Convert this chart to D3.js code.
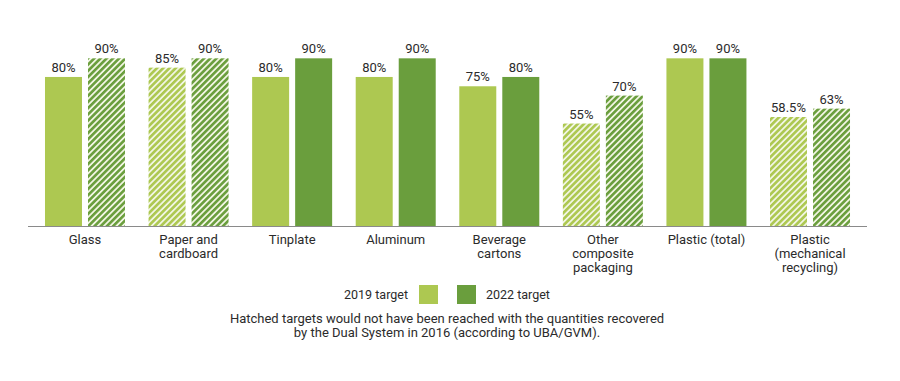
<!DOCTYPE html>
<html>
<head>
<meta charset="utf-8">
<script src="https://cdn.jsdelivr.net/npm/d3@7"></script>
<style>
  body { margin: 0; background: #fff; }
  text { font-family: Roboto, "Liberation Sans", sans-serif; fill: #2b2b2b; }
</style>
</head>
<body>
<script>
// data
let categories = ['Glass', 'Paper and\ncardboard', 'Tinplate', 'Aluminum', 'Beverage\ncartons',
  'Other\ncomposite\npackaging', 'Plastic (total)', 'Plastic\n(mechanical\nrecycling)'];
let target2019 = [80, 85, 80, 80, 75, 55, 90, 58.5];
let target2022 = [90, 90, 90, 90, 80, 70, 90, 63];
// which targets would not have been reached (drawn hatched)
let hatched2019 = [false, true, false, false, false, true, false, true];
let hatched2022 = [true, true, false, false, false, true, false, true];
let seriesNames = ['2019 target', '2022 target'];

let width = 900, height = 381;
let colors = { '2019 target': '#adc851', '2022 target': '#6a9e3d' };

let svg = d3.select('body').append('svg').attr('width', width).attr('height', height);

// hatch patterns
let defs = svg.append('defs');
seriesNames.forEach(function(s, i) {
  let p = defs.append('pattern').attr('id', 'hatch' + i)
    .attr('patternUnits', 'userSpaceOnUse')
    .attr('width', 4.4).attr('height', 4.4)
    .attr('patternTransform', 'rotate(45)');
  p.append('rect').attr('width', 4.4).attr('height', 4.4).attr('fill', '#f1f5e3');
  p.append('rect').attr('width', 2.6).attr('height', 4.4).attr('fill', colors[s]);
});

let rows = categories.map(function(c, i) {
  return {
    cat: c,
    vals: [
      { key: seriesNames[0], idx: 0, v: target2019[i], h: hatched2019[i] },
      { key: seriesNames[1], idx: 1, v: target2022[i], h: hatched2022[i] }
    ]
  };
});

let baseY = 226;
let x0 = d3.scaleBand().domain(categories).range([33.2, 861.8]).paddingInner(0.2276).paddingOuter(0.1138);
let x1 = d3.scaleBand().domain(seriesNames).range([0, x0.bandwidth()]).paddingInner(0.14);
let y = d3.scaleLinear().domain([0, 100]).range([baseY, baseY - 186.3]);

let groups = svg.selectAll('.grp').data(rows).enter().append('g').attr('class', 'grp')
  .attr('transform', function(d) { return 'translate(' + x0(d.cat) + ',0)'; });

groups.selectAll('rect').data(function(d) { return d.vals; }).enter().append('rect')
  .attr('x', function(d) { return x1(d.key); })
  .attr('width', x1.bandwidth())
  .attr('y', function(d) { return y(d.v); })
  .attr('height', function(d) { return y(0) - y(d.v); })
  .attr('fill', function(d) { return d.h ? 'url(#hatch' + d.idx + ')' : colors[d.key]; });

groups.selectAll('.val').data(function(d) { return d.vals; }).enter().append('text').attr('class', 'val')
  .attr('x', function(d) { return x1(d.key) + x1.bandwidth() / 2; })
  .attr('y', function(d) { return y(d.v) - 5; })
  .attr('text-anchor', 'middle')
  .style('font-size', '13px')
  .text(function(d) { return d.v + '%'; });

// baseline
svg.append('line').attr('x1', 28).attr('x2', 867).attr('y1', baseY + 0.5).attr('y2', baseY + 0.5)
  .attr('stroke', '#8a8a8a').attr('stroke-width', 1.2);

// category labels
let cl = svg.selectAll('.cat').data(categories).enter().append('text').attr('class', 'cat')
  .attr('text-anchor', 'middle')
  .style('font-size', '13px')
  .attr('transform', function(d) { return 'translate(' + (x0(d) + x0.bandwidth() / 2) + ',' + (baseY + 18) + ')'; });
cl.selectAll('tspan').data(function(d) { return d.split('\n'); }).enter().append('tspan')
  .attr('x', 0).attr('dy', function(d, i) { return i ? 14 : 0; })
  .text(function(d) { return d; });

// legend
let legY = 285;
svg.append('text').attr('x', 408).attr('y', legY + 14).attr('text-anchor', 'end')
  .style('font-size', '12.5px').text(seriesNames[0]);
svg.append('rect').attr('x', 419).attr('y', legY).attr('width', 19).attr('height', 19).attr('fill', colors[seriesNames[0]]);
svg.append('rect').attr('x', 457).attr('y', legY).attr('width', 19).attr('height', 19).attr('fill', colors[seriesNames[1]]);
svg.append('text').attr('x', 486).attr('y', legY + 14)
  .style('font-size', '12.5px').text(seriesNames[1]);

// note
let note = ['Hatched targets would not have been reached with the quantities recovered',
  'by the Dual System in 2016 (according to UBA/GVM).'];
svg.selectAll('.note').data(note).enter().append('text').attr('class', 'note')
  .attr('x', 447).attr('y', function(d, i) { return 323 + i * 14; })
  .attr('text-anchor', 'middle').style('font-size', '13px')
  .text(function(d) { return d; });
</script>
</body>
</html>
